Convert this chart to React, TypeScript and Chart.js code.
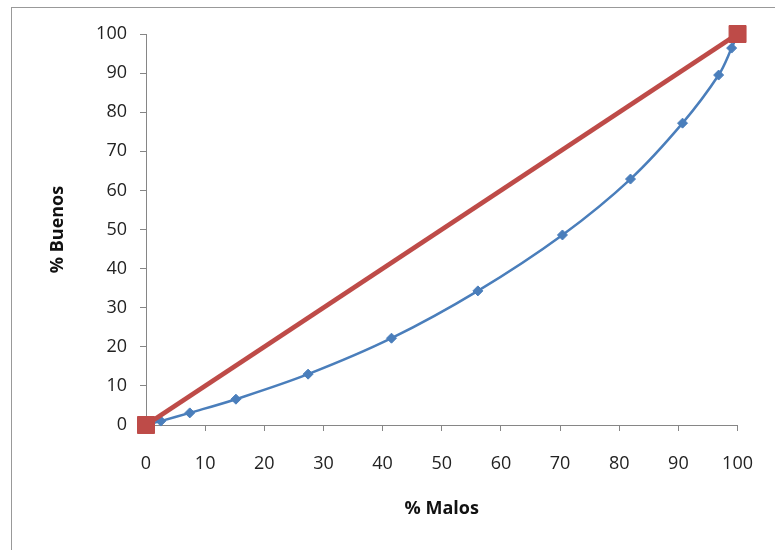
import React, { useEffect, useRef } from "react";
import { Chart, registerables } from "chart.js";

Chart.register(...registerables);

const malos = [0, 2.5, 7.4, 15.2, 27.4, 41.5, 56.1, 70.4, 81.9, 90.7, 96.8, 99.0, 100];
const buenos = [0, 1.0, 3.1, 6.6, 13.0, 22.2, 34.3, 48.6, 62.9, 77.2, 89.5, 96.4, 100];
const refX = [0, 100];
const refY = [0, 100];
const xTitle = "% Malos";
const yTitle = "% Buenos";

export default function App() {
  const ref = useRef<HTMLCanvasElement>(null);
  useEffect(() => {
    const ctx = ref.current!;
    const font = "'Open Sans', 'Liberation Sans', sans-serif";
    const chart = new Chart(ctx, {
      type: "scatter",
      data: {
        datasets: [
          {
            label: "Curve",
            data: malos.map((x, i) => ({ x, y: buenos[i] })),
            showLine: true,
            borderColor: "#4A7EBB",
            backgroundColor: "#4A7EBB",
            borderWidth: 2.5,
            pointStyle: "rectRot",
            pointRadius: 5,
            pointBorderWidth: 1,
            tension: 0.35,
            clip: false,
            order: 2,
          },
          {
            label: "Ref",
            data: refX.map((x, i) => ({ x, y: refY[i] })),
            showLine: true,
            borderColor: "#BE4B48",
            backgroundColor: "#BE4B48",
            borderWidth: 4.5,
            pointStyle: "rect",
            pointRadius: 12,
            pointBorderWidth: 1,
            clip: false,
            order: 1,
          },
        ],
      },
      options: {
        responsive: false,
        animation: false,
        layout: { padding: { left: 45, right: 37, top: 34, bottom: 20 } },
        plugins: { legend: { display: false }, tooltip: { enabled: false } },
        scales: {
          x: {
            type: "linear",
            min: 0,
            max: 100,
            afterFit: (s: any) => { s.height = 105; },
            ticks: { stepSize: 10, color: "#222", font: { family: font, size: 18 }, padding: 22, maxRotation: 0 },
            grid: { display: true, drawOnChartArea: false, drawTicks: true, tickLength: 6, color: "#868686" },
            border: { display: true, color: "#868686", width: 1 },
            title: { display: true, text: xTitle, color: "#111", font: { family: font, size: 18, weight: "bold" }, padding: { top: 4, bottom: 10 } },
          },
          y: {
            type: "linear",
            min: 0,
            max: 100,
            afterFit: (s: any) => { s.width = 101; },
            ticks: { stepSize: 10, color: "#222", font: { family: font, size: 18 }, padding: 13 },
            grid: { display: true, drawOnChartArea: false, drawTicks: true, tickLength: 6, color: "#868686" },
            border: { display: true, color: "#868686", width: 1 },
            title: { display: true, text: yTitle, color: "#111", font: { family: font, size: 18, weight: "bold" }, padding: { top: 2, bottom: 4 } },
          },
        },
      },
    });
    return () => chart.destroy();
  }, []);
  return (
    <div style={{ position: "fixed", left: 0, top: 0, width: 775, height: 550, overflow: "hidden", background: "#fff" }}>
      <div style={{ position: "absolute", left: 11, top: 7, width: 800, height: 600, border: "1.5px solid #999", boxSizing: "border-box" }} />
      <canvas ref={ref} width={775} height={550} style={{ position: "absolute", left: 0, top: 0, display: "block" }} />
    </div>
  );
}
